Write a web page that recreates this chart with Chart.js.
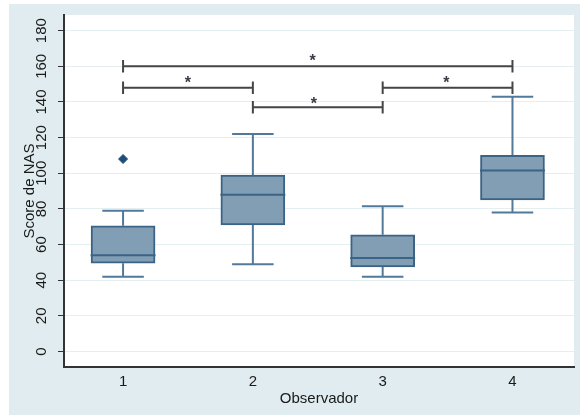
<!DOCTYPE html>
<html>
<head>
<meta charset="utf-8">
<script src="https://cdn.jsdelivr.net/npm/chart.js@4"></script>
<style>
  body { margin: 0; background: #ffffff; }
  #wrap { position: absolute; left: 9px; top: 4px; width: 571px; height: 411px; background: #e0ecef; }
  canvas { display: block; }
</style>
</head>
<body>
<div id="wrap"><canvas id="chart" width="571" height="411"></canvas></div>
<script>
// Box plot summaries per observer
const observers = [1, 2, 3, 4];
const whiskerLow = [42, 49, 42, 78];
const q1 = [49.5, 71, 47.5, 85];
const median = [54, 88, 52.5, 101.5];
const q3 = [70.5, 99, 65.5, 110];
const whiskerHigh = [79, 122, 81.5, 143];
const outliers = [{ x: 1, y: 108 }];

// Significance brackets (from, to, height) and the stars above them
const bracketFrom = [1, 1, 2, 3];
const bracketTo = [4, 2, 3, 4];
const bracketY = [160, 148, 137, 148];
const starX = [2.46, 1.5, 2.47, 3.49];
const starY = [165, 153, 141, 153];

const yTicks = [0, 20, 40, 60, 80, 100, 120, 140, 160, 180];
const xTicks = [1, 2, 3, 4];

const BOX_HALF = 0.25;
const CAP_HALF = 0.16;
const END_TICK = 3.5;
const FONT = '"Liberation Sans", Arial, sans-serif';

// Build line segments separated by null gaps
function segments(list) {
    const pts = [];
    list.forEach(seg => {
        pts.push({ x: seg[0], y: seg[1] }, { x: seg[2], y: seg[3] }, { x: seg[2], y: null });
    });
    return pts;
}

const medianSegs = observers.map((o, i) => [o - BOX_HALF, median[i], o + BOX_HALF, median[i]]);
const whiskerSegs = [];
observers.forEach((o, i) => {
    whiskerSegs.push([o, q3[i], o, whiskerHigh[i]]);
    whiskerSegs.push([o - CAP_HALF, whiskerHigh[i], o + CAP_HALF, whiskerHigh[i]]);
    whiskerSegs.push([o, q1[i], o, whiskerLow[i]]);
    whiskerSegs.push([o - CAP_HALF, whiskerLow[i], o + CAP_HALF, whiskerLow[i]]);
});
const bracketSegs = [];
bracketFrom.forEach((f, i) => {
    const t = bracketTo[i], y = bracketY[i];
    bracketSegs.push([f, y, t, y]);
    bracketSegs.push([f, y + END_TICK, f, y - END_TICK]);
    bracketSegs.push([t, y + END_TICK, t, y - END_TICK]);
});

// Paint white plot area, rotated y labels and significance stars
const extras = {
    id: 'extras',
    beforeDraw(chart) {
        const { ctx, chartArea } = chart;
        ctx.save();
        ctx.fillStyle = '#ffffff';
        ctx.fillRect(chartArea.left, chartArea.top, chartArea.right - chartArea.left, chartArea.bottom - chartArea.top);
        ctx.restore();
    },
    afterDraw(chart) {
        const { ctx } = chart;
        const xs = chart.scales.x, ys = chart.scales.y;
        ctx.save();
        ctx.fillStyle = '#1a1a1a';
        ctx.font = '15px ' + FONT;
        ctx.textAlign = 'center';
        ctx.textBaseline = 'middle';
        yTicks.forEach(v => {
            ctx.save();
            ctx.translate(ys.left + 33, ys.getPixelForValue(v));
            ctx.rotate(-Math.PI / 2);
            ctx.fillText(String(v), 0, 0);
            ctx.restore();
        });
        ctx.fillStyle = '#3a3a48';
        ctx.font = 'bold 16px ' + FONT;
        ctx.textBaseline = 'alphabetic';
        starX.forEach((sx, i) => {
            ctx.fillText('*', xs.getPixelForValue(sx), ys.getPixelForValue(starY[i]) + 9);
        });
        ctx.restore();
    }
};

const ctx = document.getElementById('chart').getContext('2d');
new Chart(ctx, {
    type: 'bar',
    data: {
        datasets: [
            {
                type: 'line',
                data: segments(bracketSegs),
                borderColor: '#454545',
                borderWidth: 2,
                pointRadius: 0,
                spanGaps: false,
                order: 0
            },
            {
                type: 'line',
                data: segments(medianSegs),
                borderColor: '#3b6385',
                borderWidth: 2,
                pointRadius: 0,
                spanGaps: false,
                order: 1
            },
            {
                type: 'scatter',
                data: outliers,
                pointStyle: 'rectRot',
                pointRadius: 4.5,
                backgroundColor: '#1e4d78',
                borderColor: '#1e4d78',
                order: 1
            },
            {
                type: 'bar',
                data: observers.map((o, i) => ({ x: o, y: [q1[i], q3[i]] })),
                backgroundColor: '#819eb5',
                borderColor: '#3b6385',
                borderWidth: 2,
                borderSkipped: false,
                barThickness: 64,
                order: 2
            },
            {
                type: 'line',
                data: segments(whiskerSegs),
                borderColor: '#52799a',
                borderWidth: 2,
                pointRadius: 0,
                spanGaps: false,
                order: 3
            }
        ]
    },
    options: {
        responsive: false,
        animation: false,
        layout: { padding: { top: 11, right: 6, left: 0, bottom: 0 } },
        plugins: { legend: { display: false }, tooltip: { enabled: false } },
        scales: {
            x: {
                type: 'linear',
                offset: false,
                min: 0.545,
                max: 4.474,
                afterBuildTicks: (scale) => { scale.ticks = xTicks.map(v => ({ value: v })); },
                afterFit: (scale) => { scale.height = 48; },
                grid: { display: false, offset: false, drawTicks: false },
                border: { color: '#333333', width: 2 },
                ticks: {
                    padding: 6,
                    color: '#1a1a1a',
                    font: { family: FONT, size: 15 },
                    callback: (v) => String(v)
                },
                title: {
                    display: true,
                    text: 'Observador',
                    color: '#1a1a1a',
                    padding: { top: 0, bottom: 7 },
                    font: { family: FONT, size: 15 }
                }
            },
            y: {
                type: 'linear',
                min: -8.7,
                max: 188.8,
                afterBuildTicks: (scale) => { scale.ticks = yTicks.map(v => ({ value: v })); },
                afterFit: (scale) => { scale.width = 55; },
                grid: { color: '#e4eff2', lineWidth: 1, tickColor: '#333333', tickLength: 6, drawTicks: true },
                border: { color: '#333333', width: 2 },
                ticks: { display: false },
                title: {
                    display: true,
                    text: 'Score de NAS',
                    color: '#1a1a1a',
                    padding: { top: 12, bottom: 0 },
                    font: { family: FONT, size: 15 }
                }
            }
        }
    },
    plugins: [extras]
});
</script>
</body>
</html>
